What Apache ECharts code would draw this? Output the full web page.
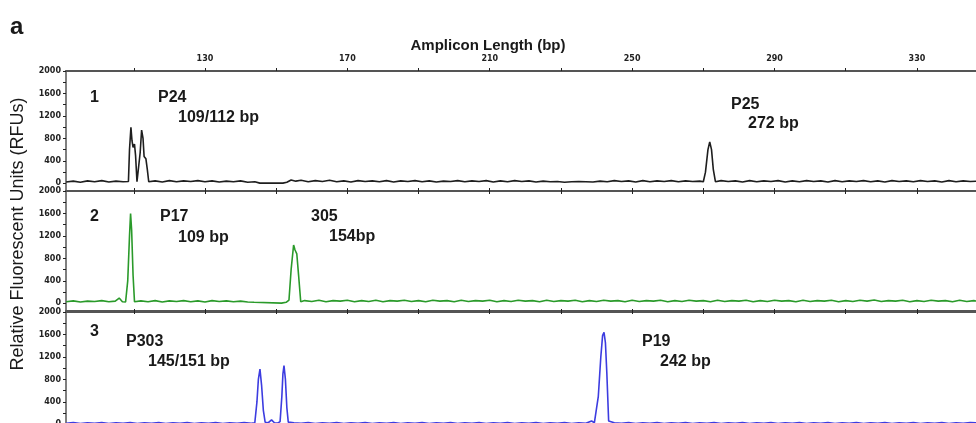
<!DOCTYPE html>
<html>
<head>
<meta charset="utf-8">
<script src="https://cdn.jsdelivr.net/npm/echarts@6/dist/echarts.min.js"></script>
<style>
  html, body { margin: 0; padding: 0; background: #fff; }
  #chart { width: 976px; height: 423px; }
</style>
</head>
<body>
<div id="chart"></div>
<script>
// amplicon length axis (bp)
const bpMin = 90.96
const bpMax = 346.6
const bpLabels = [130, 170, 210, 250, 290, 330]
const bpTicks = [110, 130, 150, 170, 190, 210, 230, 250, 270, 290, 310, 330]
const rfuLabels = [0, 400, 800, 1200, 1600, 2000]
const rfuTicks = [0, 200, 400, 600, 800, 1000, 1200, 1400, 1600, 1800, 2000]

// trace 1 (black): P24 109/112 bp, P25 272 bp
const trace1 = [
  [91, 25], [93, 40], [95, 20], [97, 45], [99, 30], [101, 50], [103, 25], [105, 40], [107, 30], [108.5, 35],
  [108.8, 600], [109.2, 1000], [109.5, 760], [109.8, 640], [110.2, 700], [110.5, 500], [110.9, 30],
  [111.4, 30], [111.8, 550], [112.2, 950], [112.6, 800], [112.9, 480], [113.4, 440], [113.8, 250], [114.2, 30],
  [116, 45], [118, 25], [120, 50], [122, 30], [124, 45], [126, 35], [128, 50], [130, 30], [132, 45], [134, 25],
  [136, 40], [138, 30], [140, 45], [142, 20], [144, 30], [145.4, 5], [151.9, 5], [153, 20], [154.2, 60], [155.5, 40],
  [157, 55], [159, 30], [161, 50], [163, 35], [165, 55], [167, 30], [169, 45], [171, 25], [173, 50], [175, 35],
  [177, 45], [179, 30], [181, 50], [183, 25], [185, 45], [187, 35], [189, 50], [191, 30], [193, 45], [195, 25],
  [197, 40], [199, 35], [201, 50], [203, 30], [205, 45], [207, 35], [209, 50], [211, 25], [213, 45], [215, 30],
  [217, 50], [219, 35], [221, 45], [223, 25], [225, 40], [227, 30], [229, 35], [231, 20], [233, 30], [235, 35],
  [237, 30], [239, 25], [241, 40], [243, 30], [245, 50], [247, 35], [249, 45], [251, 25], [253, 50], [255, 30],
  [257, 45], [259, 35], [261, 50], [263, 30], [265, 45], [267, 35], [269, 40], [270, 30],
  [270.6, 200], [271.3, 600], [271.8, 740], [272.3, 600], [272.8, 250], [273.4, 30],
  [275, 50], [277, 35], [279, 45], [281, 25], [283, 50], [285, 30], [287, 45], [289, 35], [291, 50], [293, 25],
  [295, 45], [297, 30], [299, 50], [301, 35], [303, 45], [305, 25], [307, 50], [309, 30], [311, 45], [313, 35],
  [315, 50], [317, 30], [319, 45], [321, 25], [323, 50], [325, 35], [327, 45], [329, 30], [331, 50], [333, 35],
  [335, 45], [337, 25], [339, 50], [341, 30], [343, 45], [345, 35], [347, 40]
]

// trace 2 (green): P17 109 bp, 305 154 bp
const trace2 = [
  [91, 30], [93, 45], [95, 25], [97, 40], [99, 35], [101, 50], [103, 30], [104.8, 40], [105.9, 95], [106.8, 30],
  [107.7, 25], [108.3, 400], [108.8, 1200], [109.1, 1600], [109.4, 1300], [109.8, 500], [110.2, 30],
  [112, 45], [114, 30], [116, 50], [118, 25], [120, 45], [122, 35], [124, 50], [126, 30], [128, 45], [130, 25],
  [132, 50], [134, 35], [136, 45], [138, 30], [140, 40], [142, 25], [143.8, 20], [144.2, 5], [151.5, 5], [152.8, 20],
  [153.6, 60], [154.2, 600], [154.9, 1040], [155.3, 950], [155.8, 880], [156.3, 500], [156.9, 30],
  [158, 50], [160, 35], [162, 55], [164, 30], [166, 50], [168, 40], [170, 55], [172, 30], [174, 50], [176, 35],
  [178, 55], [180, 30], [182, 50], [184, 40], [186, 55], [188, 35], [190, 50], [192, 30], [194, 55], [196, 40],
  [198, 50], [200, 30], [202, 55], [204, 35], [206, 50], [208, 40], [210, 55], [212, 30], [214, 50], [216, 35],
  [218, 55], [220, 40], [222, 50], [224, 30], [226, 55], [228, 35], [230, 50], [232, 40], [234, 55], [236, 30],
  [238, 50], [240, 35], [242, 55], [244, 40], [246, 50], [248, 30], [250, 55], [252, 35], [254, 50], [256, 40],
  [258, 55], [260, 30], [262, 50], [264, 35], [266, 55], [268, 40], [270, 50], [272, 30], [274, 55], [276, 35],
  [278, 50], [280, 40], [282, 55], [284, 30], [286, 50], [288, 35], [290, 55], [292, 40], [294, 50], [296, 30],
  [298, 55], [300, 35], [302, 50], [304, 40], [306, 55], [308, 30], [310, 50], [312, 35], [314, 55], [316, 40],
  [318, 60], [320, 35], [322, 50], [324, 40], [326, 55], [328, 30], [330, 50], [332, 35], [334, 55], [336, 40],
  [338, 50], [340, 30], [342, 55], [344, 35], [346, 50], [347, 40]
]

// trace 3 (blue): P303 145/151 bp, P19 242 bp
const trace3 = [
  [91, 20], [93, 35], [95, 15], [97, 30], [99, 20], [101, 35], [103, 15], [105, 30], [107, 20], [109, 35],
  [111, 15], [113, 30], [115, 20], [117, 35], [119, 15], [121, 30], [123, 20], [125, 35], [127, 15], [129, 30],
  [131, 20], [133, 35], [135, 15], [137, 30], [139, 20], [141, 35], [143, 20], [144.0, 30],
  [144.6, 400], [145.0, 800], [145.45, 985], [145.9, 700], [146.4, 250], [146.9, 40],
  [147.8, 30], [148.7, 80], [149.5, 30], [150.5, 25], [151.1, 50],
  [151.6, 500], [151.9, 900], [152.2, 1045], [152.6, 800], [153.0, 300], [153.4, 40],
  [155, 30], [157, 20], [159, 35], [161, 15], [163, 30], [165, 20], [167, 35], [169, 15], [171, 30], [173, 20],
  [175, 35], [177, 15], [179, 30], [181, 20], [183, 35], [185, 15], [187, 30], [189, 20], [191, 35], [193, 15],
  [195, 30], [197, 20], [199, 35], [201, 15], [203, 30], [205, 20], [207, 35], [209, 15], [211, 30], [213, 20],
  [215, 35], [217, 15], [219, 30], [221, 20], [223, 35], [225, 15], [227, 30], [229, 20], [231, 35], [233, 15],
  [235, 30], [237, 20], [238.6, 60], [239.4, 30], [239.8, 60],
  [240.5, 500], [241.2, 1200], [241.7, 1580], [242.1, 1640], [242.5, 1450], [242.9, 900], [243.4, 60],
  [245, 30], [247, 20], [249, 35], [251, 15], [253, 30], [255, 20], [257, 35], [259, 15], [261, 30], [263, 20],
  [265, 35], [267, 15], [269, 30], [271, 20], [273, 35], [275, 15], [277, 30], [279, 20], [281, 35], [283, 15],
  [285, 30], [287, 20], [289, 35], [291, 15], [293, 30], [295, 20], [297, 35], [299, 15], [301, 30], [303, 20],
  [305, 35], [307, 15], [309, 30], [311, 20], [313, 35], [315, 15], [317, 30], [319, 20], [321, 35], [323, 15],
  [325, 30], [327, 20], [329, 35], [331, 15], [333, 30], [335, 20], [337, 35], [339, 15], [341, 30], [343, 20],
  [345, 35], [347, 25]
]

const panelNums = ['1', '2', '3']
const traces = [trace1, trace2, trace3]
const traceColors = ['#1e1e1e', '#2a9a2a', '#3c3ce0']

const chart = echarts.init(document.getElementById('chart'))

const panelTops = [71, 191, 312]
const panelHeight = 120
const axisColor = '#555'
const font = 'Liberation Sans, Arial, sans-serif'
const tickFont = 'DejaVu Sans, sans-serif'

const grids = panelTops.map(t => ({
  left: 66, right: 0, top: t, height: panelHeight, containLabel: false, outerBoundsMode: 'none'
}))

const xAxes = []
panelTops.forEach((t, i) => {
  // top edge of each panel
  xAxes.push({
    type: 'value', gridIndex: i, position: 'top', min: bpMin, max: bpMax,
    axisLine: { show: true, onZero: false, lineStyle: { color: axisColor, width: 2 } },
    axisTick: { show: true, length: 3, customValues: bpTicks, lineStyle: { color: '#222', width: 1 } },
    axisLabel: {
      show: i === 0, customValues: bpLabels, margin: 8, formatter: v => String(v),
      fontSize: 8, fontWeight: 'bold', color: '#222', fontFamily: tickFont
    },
    splitLine: { show: false }
  })
  // bottom edge of each panel
  xAxes.push({
    type: 'value', gridIndex: i, position: 'bottom', min: bpMin, max: bpMax,
    axisLine: { show: true, onZero: false, lineStyle: { color: axisColor, width: 2 } },
    axisTick: { show: true, length: 3, customValues: bpTicks, lineStyle: { color: '#222', width: 1 } },
    axisLabel: { show: false },
    splitLine: { show: false }
  })
})

const yAxes = panelTops.map((t, i) => ({
  type: 'value', gridIndex: i, min: -135, max: 2000,
  axisLine: { show: true, lineStyle: { color: axisColor, width: 1.5 } },
  axisTick: { show: true, length: 3, customValues: rfuTicks, lineStyle: { color: '#222' } },
  axisLabel: {
    customValues: rfuLabels, margin: 5, formatter: v => String(v),
    fontSize: 8, fontWeight: 'bold', color: '#222', fontFamily: tickFont
  },
  splitLine: { show: false }
}))

const series = traces.map((d, i) => ({
  type: 'line', xAxisIndex: i * 2 + 1, yAxisIndex: i,
  data: d, showSymbol: false, symbol: 'none',
  lineStyle: { color: traceColors[i], width: 1.6 },
  animation: false
}))

function txt (x, y, s, opts) {
  return {
    type: 'text', x: x, y: y,
    style: Object.assign({
      text: s, fill: '#1a1a1a', font: 'bold 16px ' + font,
      textAlign: 'left', textVerticalAlign: 'middle'
    }, opts || {})
  }
}

const graphics = [
  txt(10, 27, 'a', { font: 'bold 24px ' + font }),
  txt(488, 46, 'Amplicon Length (bp)', { font: 'bold 15px ' + font, textAlign: 'center' }),
  {
    type: 'text', x: 18, y: 234, rotation: Math.PI / 2,
    style: {
      text: 'Relative Fluorescent Units (RFUs)', fill: '#1a1a1a',
      font: '18px ' + font, textAlign: 'center', textVerticalAlign: 'middle'
    }
  },
  txt(90, 98, panelNums[0]),
  txt(158, 98, 'P24'),
  txt(178, 118, '109/112 bp'),
  txt(731, 105, 'P25'),
  txt(748, 124, '272 bp'),
  txt(90, 217, panelNums[1]),
  txt(160, 217, 'P17'),
  txt(178, 238, '109 bp'),
  txt(311, 217, '305'),
  txt(329, 237, '154bp'),
  txt(90, 332, panelNums[2]),
  txt(126, 342, 'P303'),
  txt(148, 362, '145/151 bp'),
  txt(642, 342, 'P19'),
  txt(660, 362, '242 bp')
]

chart.setOption({
  animation: false,
  grid: grids,
  xAxis: xAxes,
  yAxis: yAxes,
  series: series,
  graphic: graphics
})
</script>
</body>
</html>
